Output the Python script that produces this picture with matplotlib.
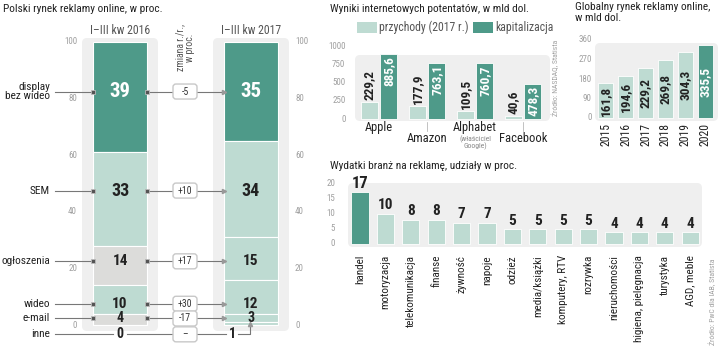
import numpy as np
import matplotlib.pyplot as plt
from matplotlib.patches import FancyBboxPatch, Rectangle

# --- data ---
segments = ["display\nbez wideo", "SEM", "ogłoszenia", "wideo", "e-mail", "inne"]
share_2016 = [39, 33, 14, 10, 4, 0]
share_2017 = [35, 34, 15, 12, 3, 1]
yoy_change = ["-5", "+10", "+17", "+30", "-17", "–"]

companies = ["Apple", "Amazon", "Alphabet", "Facebook"]
revenue_2017 = [229.2, 177.9, 109.5, 40.6]
market_cap = [885.6, 763.1, 760.7, 478.3]

years = ["2015", "2016", "2017", "2018", "2019", "2020"]
global_online = [161.8, 194.6, 229.2, 269.8, 304.3, 335.5]

industries = ["handel", "motoryzacja", "telekomunikacja", "finanse", "żywność",
              "napoje", "odzież", "media/książki", "komputery, RTV", "rozrywka",
              "nieruchomości", "higiena, pielęgnacja", "turystyka", "AGD, meble"]
industry_share = [17, 10, 8, 8, 7, 7, 5, 5, 5, 5, 4, 4, 4, 4]

DARK = "#4E9A89"
LIGHT = "#BEDBD2"
GREYSEG = "#DCDCDA"
BG = "#EFEFEF"
TXT = "#222222"
TICK = "#A0A0A0"

plt.rcParams['font.family'] = ['Roboto Condensed', 'DejaVu Sans']
NUM = ['Roboto Condensed', 'DejaVu Sans']


def fmt(v):
    return f"{v:.1f}".replace(".", ",")


fig = plt.figure(figsize=(7.2, 3.5), dpi=100)

# overlay in pixel coordinates for backgrounds and titles
ov = fig.add_axes([0, 0, 1, 1], zorder=0)
ov.set_xlim(0, 720)
ov.set_ylim(350, 0)
ov.axis("off")


def panel(x0, y0, x1, y1, color=BG, r=5):
    ov.add_patch(FancyBboxPatch((x0, y0), x1 - x0, y1 - y0,
                                boxstyle=f"round,pad=0,rounding_size={r}",
                                fc=color, ec="none"))


def px_axes(x0, y0, x1, y1):
    a = fig.add_axes([x0 / 720, (350 - y1) / 350, (x1 - x0) / 720, (y1 - y0) / 350], zorder=1)
    a.patch.set_visible(False)
    a.axis("off")
    return a


# ---------------- left: Polish market ----------------
ov.text(3, 9, "Polski rynek reklamy online, w proc.", fontsize=8.2, va="center", color=TXT)
ov.text(120, 31, "I–III kw 2016", ha="center", va="center", fontsize=8.5, color="#555")
ov.text(251, 31, "I–III kw 2017", ha="center", va="center", fontsize=8.5, color="#555")
ov.text(185, 24, "zmiana r./r.,\nw proc.", rotation=90, ha="center", va="top",
        fontsize=7, color="#555", linespacing=0.9)
panel(82, 38, 158, 331)
panel(213, 38, 289, 331)

ax1 = px_axes(0, 0, 310, 350)
k = 2.83  # px per unit
ax1.set_xlim(0, 310)
ax1.set_ylim(-25 / k, 100 + 42 / k)

row_y = [82.5, 47.5, 22.5, 7.5, 2.3, -3.3]
colors16 = [DARK, LIGHT, GREYSEG, LIGHT, GREYSEG, LIGHT]
colors17 = [DARK, LIGHT, LIGHT, LIGHT, LIGHT, LIGHT]
tops16 = 100 - np.concatenate([[0], np.cumsum(share_2016)[:-1]])
tops17 = 100 - np.concatenate([[0], np.cumsum(share_2017)[:-1]])
ax1.bar(120, share_2016, bottom=tops16 - np.array(share_2016), width=54,
        color=colors16, edgecolor="white", linewidth=0.8)
ax1.bar(251, share_2017, bottom=tops17 - np.array(share_2017), width=54,
        color=colors17, edgecolor="white", linewidth=0.8)

for t in range(0, 101, 20):
    ax1.text(77, t, str(t), ha="right", va="center", fontsize=6.5, color=TICK)
    ax1.text(295, t, str(t), ha="left", va="center", fontsize=6.5, color=TICK)

val_fs = [15, 13, 11, 11, 10, 10]
line_kw = dict(color="#777", lw=0.8, zorder=2)
for i, lab in enumerate(segments):
    y = row_y[i]
    ax1.text(50, y, lab, ha="right", va="center", fontsize=8.2, color=TXT, linespacing=0.9)
    if i < 5:
        ax1.plot([55, 93], [y, y], **line_kw)
        ax1.plot([147, 173], [y, y], **line_kw)
        ax1.plot([197, 224], [y, y], **line_kw)
        ax1.plot([93, 147], [y, y], "s", ms=3.5, color="#555", mec="#bbb", mew=0.6, zorder=3)
        ax1.plot(224, y, ">", ms=3, color="#999", zorder=3)
        x17 = 251
    else:
        ax1.plot([55, 113], [y, y], **line_kw)
        ax1.plot([127, 173], [y, y], **line_kw)
        ax1.plot([197, 226], [y, y], **line_kw)
        ax1.plot([238, 250, 250], [y, y, 0.4], **line_kw)
        ax1.plot(250, 0.4, "^", ms=3, color="#999", zorder=3)
        x17 = 232
    ax1.text(120, y, str(share_2016[i]), ha="center", va="center", fontsize=val_fs[i],
             fontweight="bold", family=NUM, color="white" if i == 0 else TXT, zorder=4)
    ax1.text(x17, y, str(share_2017[i]), ha="center", va="center", fontsize=val_fs[i],
             fontweight="bold", family=NUM, color="white" if i == 0 else TXT, zorder=4)
    ax1.add_patch(FancyBboxPatch((173, y - 7.5 / k), 24, 15 / k,
                                 boxstyle="round,pad=0,rounding_size=3", mutation_aspect=1 / k,
                                 fc="white", ec="#c8c8c8", lw=1, zorder=3))
    ax1.text(185, y, yoy_change[i], ha="center", va="center", fontsize=7, color="#333", zorder=4)

# ---------------- middle top: internet giants ----------------
ov.text(330, 9, "Wyniki internetowych potentatów, w mld dol.", fontsize=8.2, va="center", color=TXT)
ov.add_patch(Rectangle((357, 22), 20, 11, fc=LIGHT, ec="none"))
ov.text(379, 27.5, "przychody (2017 r.)", va="center", fontsize=8.5, color="#555")
ov.add_patch(Rectangle((473, 22), 20, 11, fc=DARK, ec="none"))
ov.text(495, 27.5, "kapitalizacja", va="center", fontsize=8.5, color="#555")
panel(355, 55, 550, 121)
ov.text(555, 78, "Źródło: NASDAQ, Statista", rotation=90, ha="center", va="center",
        fontsize=5.5, color=TICK)

ax2 = px_axes(355, 42, 547, 121)
s2 = 73 / 1000
ax2.set_xlim(-0.5, 3.5)
ax2.set_ylim(-2 / s2, 1000 + 4 / s2)
xc = np.arange(len(companies))
ax2.bar(xc - 0.2, revenue_2017, width=0.36, color=LIGHT, edgecolor="white", linewidth=0.6)
ax2.bar(xc + 0.2, market_cap, width=0.36, color=DARK, edgecolor="white", linewidth=0.6)
for t in range(0, 1001, 250):
    ax2.text(-0.7, t, str(t), ha="right", va="center", fontsize=6.5, color=TICK)
for i in range(len(companies)):
    ax2.text(i - 0.2, revenue_2017[i] + 25, fmt(revenue_2017[i]), rotation=90, ha="center",
             va="bottom", fontsize=9.5, fontweight="bold", family=NUM, color=TXT)
    ax2.text(i + 0.2, market_cap[i] - 25, fmt(market_cap[i]), rotation=90, ha="center",
             va="top", fontsize=9.5, fontweight="bold", family=NUM, color="white")
    ly = -110 if i % 2 == 0 else -270
    ax2.text(i, ly, companies[i], ha="center", va="center", fontsize=9, color=TXT, clip_on=False)
    if i % 2 == 1:
        ax2.plot([i, i], [-40, -170], color="#aaa", lw=0.5, clip_on=False)
ax2.text(2, -320, "(właściciel\nGoogle)", ha="center", va="center", fontsize=5.5,
         color="#888", linespacing=0.9, clip_on=False)

# ---------------- right top: global market ----------------
ov.text(575, 2, "Globalny rynek reklamy online,\nw mld dol.", va="top", fontsize=8.2,
        color=TXT, linespacing=1.1)
panel(595, 43, 718, 121)
ax3 = px_axes(595.5, 38, 715.5, 121)
s3 = 78 / 360
ax3.set_xlim(-0.5, 5.5)
ax3.set_ylim(-3 / s3, 360 + 2 / s3)
xy = np.arange(len(years))
ax3.bar(xy, global_online, width=0.76, color=[LIGHT] * 5 + [DARK], edgecolor="white", linewidth=0.6)
for t in range(0, 361, 90):
    ax3.text(-0.7, t, str(t), ha="right", va="center", fontsize=6.5, color=TICK)
for i, v in enumerate(global_online):
    ax3.text(i, max(v / 2, 48), fmt(v), rotation=90, ha="center", va="center", fontsize=9.5,
             fontweight="bold", family=NUM, color="white" if i == 5 else TXT)
    ax3.text(i, -23, years[i], rotation=90, ha="center", va="top", fontsize=8.5, color=TXT,
             clip_on=False)

# ---------------- bottom: industries ----------------
ov.text(330, 166, "Wydatki branż na reklamę, udziały w proc.", fontsize=8.2, va="center", color=TXT)
panel(348, 183, 702, 247)
ov.text(712, 302, "Źródło: PwC dla IAB, Statista", rotation=90, ha="center", va="center",
        fontsize=5.5, color=TICK)
ax4 = px_axes(347.3, 181, 702.9, 247)
s4 = 61 / 20
ax4.set_xlim(-0.5, 13.5)
ax4.set_ylim(-3 / s4, 20 + 2 / s4)
xi = np.arange(len(industries))
ax4.bar(xi, industry_share, width=0.68, color=[DARK] + [LIGHT] * 13, edgecolor="white", linewidth=0.6)
for t in range(0, 21, 5):
    ax4.text(-0.98, t, str(t), ha="right", va="center", fontsize=6.5, color=TICK)
for i, v in enumerate(industry_share):
    ax4.text(i, v + 0.4, str(v), ha="center", va="bottom", fontsize=12 if i == 0 else 11,
             fontweight="bold", family=NUM, color=TXT, clip_on=False)
    ax4.text(i, -3.6, industries[i], rotation=90, ha="center", va="top", fontsize=8,
             color=TXT, clip_on=False)

fig.savefig("out.png", dpi=100)
